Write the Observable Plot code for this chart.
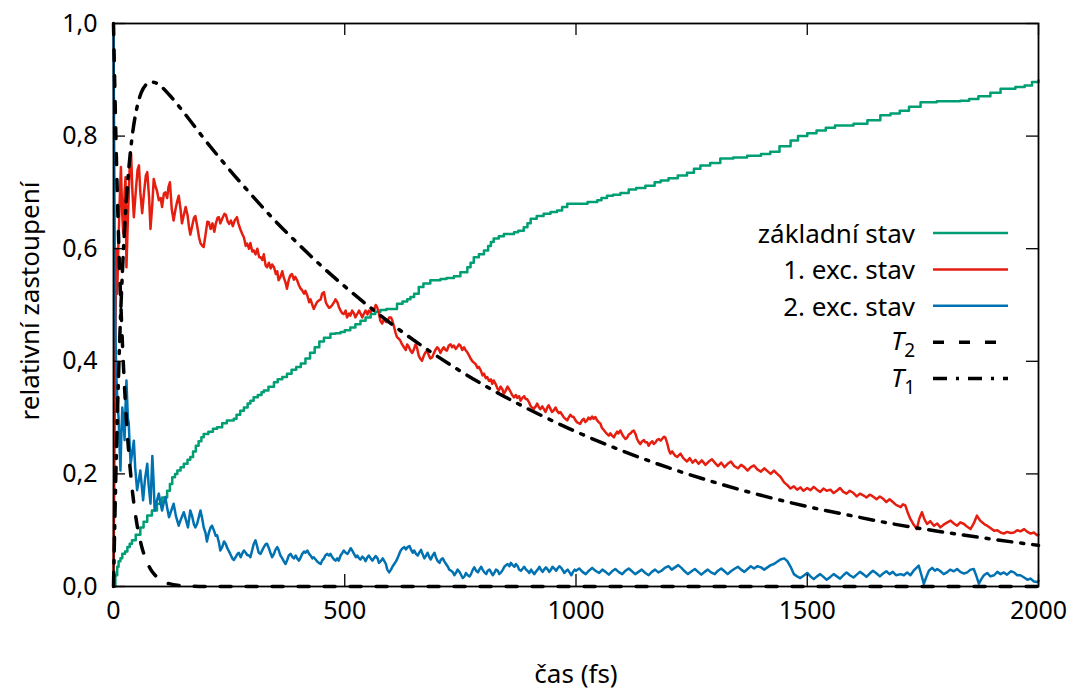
<!DOCTYPE html>
<html>
<head>
<meta charset="utf-8">
<script src="https://cdn.jsdelivr.net/npm/d3@7"></script>
<script src="https://cdn.jsdelivr.net/npm/@observablehq/plot@0.6"></script>
<style>
  html, body { margin: 0; padding: 0; background: #fff; }
  #chart { width: 1075px; height: 697px; }
</style>
</head>
<body>
<div id="chart"></div>
<script>
// ---------- data (time in fs, relative population) ----------
const xTicks = [0, 500, 1000, 1500, 2000];
const yTicks = [0, 0.2, 0.4, 0.6, 0.8, 1.0];

const legendLabels = ["základní stav", "1. exc. stav", "2. exc. stav", "T2", "T1"];
const colors = { ground: "#009e73", exc1: "#e51e10", exc2: "#0072b2", model: "#000000" };

// ground state (základní stav) – step-like
const groundSeries = [
[0,0],[4,0.02],[8,0.035],[11,0.045],[15,0.05],[19,0.058],[25,0.062],[30,0.07],[35,0.076],[40,0.082],
[48,0.092],[58,0.105],[65,0.115],[73,0.126],[83,0.135],[94,0.147],[105,0.158],[116,0.17],[122,0.182],[127,0.194],
[133,0.2],[138,0.206],[145,0.212],[152,0.218],[160,0.225],[166,0.23],[172,0.24],[178,0.25],[184,0.258],[190,0.265],
[195,0.271],[205,0.275],[215,0.28],[224,0.283],[235,0.29],[245,0.295],[260,0.298],[266,0.305],[274,0.312],[282,0.318],
[290,0.325],[296,0.33],[303,0.336],[312,0.34],[320,0.345],[325,0.348],[335,0.355],[347,0.363],[355,0.368],[365,0.372],
[375,0.378],[385,0.385],[395,0.39],[405,0.396],[415,0.405],[425,0.415],[435,0.425],[445,0.435],[455,0.442],[469,0.449],
[480,0.45],[491,0.452],[500,0.455],[512,0.46],[523,0.466],[534,0.472],[545,0.478],[556,0.484],[566,0.488],[577,0.491],
[590,0.493],[606,0.493],[613,0.502],[625,0.506],[635,0.51],[642,0.514],[650,0.52],[660,0.532],[670,0.538],[685,0.544],
[707,0.546],[720,0.548],[736,0.551],[750,0.558],[765,0.567],[772,0.575],[779,0.585],[790,0.59],[801,0.597],[810,0.605],
[816,0.612],[822,0.618],[833,0.622],[844,0.626],[866,0.629],[875,0.632],[887,0.638],[895,0.645],[902,0.653],[915,0.658],
[930,0.662],[945,0.665],[959,0.668],[970,0.674],[981,0.68],[1009,0.68],[1025,0.683],[1046,0.686],[1055,0.69],[1067,0.694],
[1080,0.696],[1096,0.699],[1114,0.705],[1130,0.708],[1150,0.712],[1170,0.718],[1183,0.721],[1200,0.725],[1220,0.73],[1240,0.735],
[1255,0.742],[1269,0.748],[1290,0.752],[1312,0.76],[1340,0.762],[1370,0.765],[1400,0.768],[1420,0.772],[1440,0.782],[1464,0.792],
[1480,0.8],[1500,0.805],[1520,0.81],[1540,0.815],[1560,0.819],[1600,0.822],[1630,0.828],[1658,0.837],[1680,0.84],[1700,0.845],
[1720,0.852],[1745,0.86],[1780,0.862],[1831,0.863],[1850,0.866],[1870,0.871],[1896,0.877],[1918,0.884],[1950,0.887],[1970,0.89],
[1986,0.896],[2000,0.899]
];

// 1st excited state (1. exc. stav)
const exc1Series = [
[0,0],[3,0.35],[6,0.6],[8,0.52],[11,0.62],[14,0.7],[16,0.745],[19,0.66],[21,0.627],[24,0.7],
[26,0.727],[28,0.567],[31,0.65],[35,0.745],[38,0.769],[41,0.7],[44,0.656],[48,0.7],[52,0.74],[55,0.748],
[58,0.7],[62,0.663],[66,0.7],[70,0.73],[73,0.736],[77,0.69],[80,0.635],[84,0.68],[87,0.724],[91,0.71],
[94,0.703],[98,0.686],[102,0.69],[105,0.674],[109,0.698],[112,0.7],[116,0.69],[119,0.71],[122,0.718],[126,0.67],
[130,0.65],[134,0.67],[138,0.685],[141,0.694],[145,0.67],[148,0.645],[152,0.66],[156,0.674],[160,0.66],[163,0.64],
[166,0.625],[170,0.64],[174,0.655],[177,0.658],[181,0.64],[185,0.62],[188,0.61],[192,0.605],[195,0.603],[199,0.625],
[203,0.648],[206,0.647],[210,0.635],[214,0.645],[218,0.63],[221,0.644],[225,0.655],[228,0.656],[231,0.645],[236,0.655],
[240,0.662],[243,0.66],[247,0.648],[250,0.644],[254,0.65],[258,0.64],[262,0.65],[267,0.656],[270,0.645],[274,0.635],
[278,0.627],[282,0.62],[286,0.605],[289,0.609],[293,0.6],[296,0.61],[300,0.595],[303,0.597],[307,0.59],[311,0.6],
[315,0.585],[318,0.585],[322,0.58],[325,0.59],[329,0.57],[332,0.567],[336,0.575],[340,0.565],[343,0.572],[347,0.567],
[351,0.555],[354,0.56],[357,0.544],[361,0.55],[365,0.56],[368,0.549],[372,0.54],[375,0.529],[379,0.545],[382,0.552],
[386,0.555],[390,0.545],[393,0.55],[397,0.544],[401,0.535],[404,0.53],[408,0.526],[412,0.52],[415,0.525],[419,0.517],
[423,0.505],[426,0.51],[430,0.5],[433,0.493],[437,0.5],[440,0.505],[444,0.508],[448,0.51],[451,0.52],[455,0.523],
[459,0.505],[462,0.5],[466,0.495],[469,0.496],[473,0.5],[477,0.505],[480,0.51],[484,0.505],[488,0.495],[491,0.49],
[495,0.485],[498,0.484],[502,0.49],[505,0.478],[509,0.485],[512,0.481],[516,0.49],[520,0.485],[523,0.478],[527,0.484],
[531,0.49],[534,0.485],[538,0.478],[541,0.484],[545,0.49],[549,0.483],[552,0.49],[556,0.487],[560,0.494],[563,0.49],
[567,0.5],[570,0.496],[574,0.485],[577,0.472],[581,0.467],[585,0.475],[589,0.47],[592,0.47],[596,0.478],[600,0.478],
[603,0.472],[607,0.46],[610,0.45],[613,0.443],[617,0.44],[620,0.437],[624,0.43],[628,0.425],[632,0.42],[635,0.43],
[639,0.425],[642,0.419],[646,0.415],[649,0.42],[653,0.43],[656,0.425],[660,0.41],[663,0.405],[667,0.401],[671,0.41],
[674,0.415],[678,0.419],[682,0.41],[685,0.405],[689,0.407],[693,0.415],[696,0.42],[700,0.425],[703,0.422],[707,0.415],
[710,0.42],[714,0.425],[718,0.42],[721,0.419],[725,0.428],[729,0.43],[732,0.425],[736,0.428],[740,0.422],[743,0.425],
[747,0.43],[750,0.428],[754,0.42],[758,0.425],[761,0.42],[765,0.416],[769,0.41],[772,0.405],[776,0.4],[779,0.398],
[783,0.395],[787,0.388],[790,0.39],[794,0.384],[798,0.375],[801,0.378],[805,0.37],[808,0.372],[812,0.365],[816,0.368],
[819,0.36],[822,0.366],[826,0.36],[830,0.352],[833,0.348],[837,0.355],[841,0.35],[844,0.342],[848,0.348],[852,0.355],
[855,0.351],[859,0.345],[862,0.34],[866,0.336],[870,0.34],[873,0.335],[877,0.338],[880,0.33],[884,0.335],[888,0.338],
[891,0.333],[894,0.333],[898,0.328],[902,0.32],[905,0.318],[909,0.316],[913,0.32],[916,0.325],[920,0.318],[923,0.315],
[927,0.32],[930,0.316],[934,0.31],[938,0.318],[941,0.322],[945,0.315],[948,0.31],[952,0.313],[956,0.318],[959,0.312],
[963,0.308],[966,0.31],[970,0.305],[974,0.3],[977,0.298],[981,0.295],[984,0.3],[988,0.305],[991,0.302],[995,0.301],
[999,0.295],[1002,0.292],[1006,0.29],[1009,0.289],[1013,0.295],[1017,0.298],[1020,0.292],[1024,0.295],[1027,0.3],[1031,0.297],
[1035,0.302],[1038,0.298],[1042,0.301],[1045,0.296],[1049,0.292],[1053,0.289],[1056,0.282],[1060,0.278],[1063,0.275],[1067,0.271],
[1071,0.268],[1074,0.272],[1078,0.268],[1082,0.265],[1085,0.27],[1089,0.275],[1092,0.272],[1096,0.277],[1100,0.27],[1103,0.266],
[1107,0.262],[1111,0.265],[1114,0.27],[1118,0.272],[1121,0.275],[1125,0.277],[1129,0.27],[1132,0.262],[1136,0.256],[1139,0.253],
[1143,0.258],[1147,0.26],[1150,0.256],[1154,0.256],[1157,0.25],[1161,0.255],[1165,0.258],[1168,0.253],[1172,0.256],[1175,0.26],
[1179,0.262],[1183,0.259],[1186,0.262],[1190,0.266],[1193,0.265],[1197,0.255],[1201,0.242],[1204,0.236],[1208,0.24],[1212,0.235],
[1215,0.232],[1219,0.23],[1222,0.233],[1226,0.236],[1232,0.228],[1240,0.222],[1246,0.228],[1252,0.22],[1258,0.225],[1265,0.218],
[1272,0.224],[1280,0.216],[1287,0.222],[1294,0.226],[1300,0.22],[1307,0.214],[1314,0.22],[1321,0.212],[1328,0.218],[1335,0.222],
[1342,0.214],[1350,0.21],[1357,0.216],[1364,0.212],[1371,0.206],[1378,0.212],[1385,0.215],[1392,0.208],[1400,0.204],[1407,0.21],
[1414,0.205],[1421,0.2],[1428,0.206],[1435,0.2],[1442,0.195],[1450,0.185],[1457,0.18],[1464,0.174],[1471,0.178],[1478,0.172],
[1485,0.176],[1492,0.17],[1500,0.175],[1507,0.171],[1514,0.177],[1521,0.172],[1528,0.168],[1535,0.174],[1542,0.17],[1550,0.172],
[1557,0.166],[1564,0.17],[1571,0.175],[1578,0.168],[1585,0.165],[1592,0.17],[1600,0.166],[1607,0.16],[1614,0.165],[1621,0.162],
[1628,0.158],[1635,0.163],[1642,0.16],[1650,0.155],[1657,0.16],[1664,0.156],[1671,0.15],[1678,0.155],[1685,0.15],[1692,0.145],
[1702,0.141],[1707,0.146],[1712,0.144],[1717,0.132],[1723,0.12],[1730,0.11],[1737,0.102],[1742,0.12],[1748,0.132],[1753,0.12],
[1759,0.111],[1766,0.116],[1774,0.108],[1781,0.112],[1788,0.105],[1795,0.11],[1803,0.114],[1810,0.117],[1817,0.112],[1824,0.108],
[1831,0.114],[1839,0.111],[1846,0.106],[1853,0.102],[1860,0.112],[1867,0.126],[1873,0.118],[1878,0.114],[1884,0.11],[1889,0.108],
[1896,0.104],[1904,0.099],[1911,0.1],[1918,0.096],[1925,0.094],[1932,0.097],[1940,0.095],[1947,0.096],[1954,0.1],[1961,0.098],
[1969,0.102],[1976,0.097],[1983,0.094],[1990,0.096],[1997,0.091],[2000,0.092]
];

// 2nd excited state (2. exc. stav)
const exc2Series = [
[0,1.0],[1,0.85],[2,0.7],[3,0.55],[4,0.455],[6,0.38],[8,0.336],[11,0.3],[13,0.25],[15,0.206],
[17,0.27],[19,0.318],[22,0.29],[24,0.26],[26,0.32],[28,0.366],[31,0.3],[33,0.289],[35,0.25],[37,0.218],
[40,0.235],[44,0.259],[47,0.21],[51,0.171],[55,0.19],[58,0.206],[61,0.18],[64,0.153],[68,0.19],[73,0.218],
[76,0.18],[80,0.147],[84,0.232],[87,0.18],[89,0.135],[93,0.15],[98,0.165],[101,0.15],[105,0.135],[109,0.15],
[112,0.159],[116,0.14],[120,0.123],[125,0.135],[130,0.147],[135,0.125],[141,0.108],[146,0.12],[152,0.132],[156,0.12],
[161,0.105],[166,0.135],[170,0.125],[174,0.11],[177,0.105],[181,0.112],[185,0.125],[188,0.135],[192,0.12],[195,0.105],
[199,0.095],[202,0.08],[206,0.095],[210,0.105],[213,0.108],[217,0.1],[221,0.09],[224,0.091],[228,0.078],[231,0.064],
[235,0.07],[239,0.08],[243,0.075],[246,0.068],[250,0.062],[254,0.055],[257,0.05],[260,0.047],[264,0.052],[268,0.058],
[271,0.06],[275,0.052],[278,0.058],[282,0.064],[286,0.06],[289,0.056],[293,0.055],[296,0.052],[300,0.065],[303,0.075],
[307,0.082],[311,0.07],[314,0.06],[318,0.058],[322,0.065],[325,0.07],[329,0.075],[332,0.076],[336,0.068],[340,0.058],
[343,0.052],[347,0.058],[350,0.065],[354,0.07],[357,0.065],[361,0.055],[365,0.05],[368,0.045],[372,0.04],[376,0.048],
[379,0.055],[383,0.058],[387,0.052],[390,0.05],[394,0.055],[397,0.05],[401,0.046],[405,0.052],[408,0.058],[412,0.062],
[415,0.06],[419,0.064],[423,0.058],[426,0.055],[430,0.05],[433,0.052],[437,0.048],[441,0.044],[444,0.042],[448,0.04],
[451,0.046],[455,0.05],[458,0.055],[462,0.058],[466,0.055],[469,0.058],[473,0.052],[477,0.048],[480,0.046],[484,0.05],
[487,0.046],[491,0.055],[495,0.06],[498,0.064],[502,0.06],[506,0.058],[509,0.062],[513,0.068],[516,0.064],[520,0.058],
[524,0.052],[527,0.055],[531,0.05],[534,0.048],[538,0.053],[542,0.05],[545,0.045],[549,0.052],[552,0.055],[556,0.05],
[560,0.046],[563,0.05],[567,0.054],[571,0.05],[574,0.042],[578,0.045],[582,0.05],[585,0.046],[589,0.04],[592,0.03],
[596,0.025],[600,0.03],[603,0.035],[607,0.04],[611,0.045],[614,0.05],[618,0.058],[621,0.064],[625,0.068],[629,0.07],
[632,0.066],[636,0.07],[640,0.072],[643,0.066],[647,0.06],[650,0.064],[654,0.058],[658,0.055],[661,0.06],[665,0.065],
[668,0.058],[672,0.05],[676,0.055],[679,0.06],[683,0.052],[686,0.048],[690,0.055],[694,0.06],[697,0.052],[701,0.045],
[705,0.042],[708,0.048],[712,0.05],[715,0.045],[719,0.04],[723,0.035],[726,0.03],[730,0.028],[734,0.025],[737,0.02],
[741,0.025],[744,0.03],[748,0.026],[752,0.02],[755,0.015],[759,0.018],[762,0.024],[766,0.02],[770,0.018],[773,0.022],
[777,0.03],[780,0.034],[784,0.028],[788,0.025],[791,0.03],[795,0.035],[798,0.03],[802,0.025],[806,0.022],[809,0.028],
[813,0.03],[816,0.026],[820,0.02],[824,0.025],[827,0.03],[831,0.028],[834,0.022],[838,0.025],[842,0.03],[845,0.035],
[849,0.038],[852,0.04],[856,0.036],[859,0.042],[863,0.038],[867,0.035],[870,0.04],[874,0.036],[877,0.03],[881,0.028],
[885,0.032],[888,0.035],[892,0.03],[895,0.028],[899,0.024],[903,0.03],[906,0.026],[910,0.022],[913,0.026],[917,0.03],
[921,0.035],[924,0.03],[928,0.026],[931,0.03],[935,0.034],[939,0.03],[942,0.026],[946,0.03],[949,0.035],[953,0.032],
[957,0.028],[960,0.032],[964,0.036],[968,0.033],[972,0.028],[975,0.024],[979,0.028],[982,0.03],[986,0.025],[990,0.02],
[993,0.025],[997,0.03],[1000,0.028],[1007,0.032],[1014,0.026],[1021,0.022],[1028,0.028],[1035,0.033],[1042,0.028],[1050,0.024],
[1057,0.03],[1064,0.026],[1071,0.021],[1078,0.027],[1085,0.031],[1092,0.026],[1100,0.022],[1107,0.028],[1114,0.032],[1121,0.027],
[1128,0.022],[1135,0.026],[1142,0.03],[1150,0.024],[1157,0.02],[1164,0.026],[1171,0.03],[1178,0.025],[1185,0.028],[1192,0.033],
[1200,0.036],[1207,0.03],[1214,0.034],[1221,0.038],[1228,0.033],[1235,0.027],[1242,0.022],[1250,0.027],[1257,0.031],[1264,0.026],
[1271,0.021],[1278,0.026],[1285,0.03],[1292,0.025],[1300,0.022],[1307,0.028],[1314,0.032],[1321,0.027],[1328,0.022],[1335,0.027],
[1342,0.031],[1350,0.035],[1357,0.03],[1364,0.026],[1371,0.031],[1378,0.036],[1385,0.032],[1392,0.036],[1400,0.034],[1407,0.03],
[1414,0.034],[1421,0.038],[1428,0.04],[1435,0.044],[1442,0.048],[1450,0.05],[1457,0.045],[1464,0.035],[1471,0.022],[1478,0.018],
[1485,0.015],[1492,0.019],[1500,0.024],[1507,0.018],[1514,0.013],[1521,0.018],[1528,0.022],[1535,0.017],[1542,0.012],[1550,0.017],
[1557,0.022],[1564,0.018],[1571,0.014],[1578,0.02],[1585,0.025],[1592,0.02],[1600,0.016],[1607,0.021],[1614,0.026],[1621,0.022],
[1628,0.017],[1635,0.023],[1642,0.028],[1650,0.023],[1657,0.018],[1664,0.023],[1671,0.027],[1678,0.022],[1685,0.026],[1692,0.02],
[1702,0.022],[1709,0.02],[1716,0.025],[1723,0.02],[1730,0.028],[1736,0.033],[1741,0.037],[1747,0.02],[1752,0.005],[1758,0.018],
[1763,0.028],[1770,0.033],[1776,0.028],[1781,0.031],[1788,0.027],[1795,0.022],[1802,0.025],[1809,0.03],[1817,0.027],[1824,0.031],
[1831,0.026],[1839,0.023],[1846,0.025],[1853,0.03],[1860,0.031],[1866,0.018],[1871,0.005],[1877,0.014],[1882,0.02],[1889,0.024],
[1896,0.018],[1904,0.02],[1911,0.026],[1918,0.022],[1925,0.025],[1932,0.021],[1940,0.027],[1947,0.025],[1954,0.02],[1961,0.02],
[1969,0.016],[1976,0.012],[1983,0.014],[1990,0.009],[1997,0.008],[2000,0.01]
];

// kinetic model curves
const modelT  = [0,5,10,15,20,25,30,40,50,60,70,80,90,100,120,150,200,250,300,350,400,450,500,550,600,700,800,900,1000,1100,1200,1300,1400,1500,1600,1700,1800,1900,2000];
const modelT2 = [1.0,0.805,0.647,0.521,0.419,0.337,0.271,0.176,0.114,0.074,0.048,0.031,0.02,0.013,0.005,0.0015,0.0002,0,0,0,0,0,0,0,0,0,0,0,0,0,0,0,0,0,0,0,0,0,0];
const modelT1 = [0,0.195,0.35,0.474,0.572,0.65,0.711,0.797,0.848,0.877,0.891,0.896,0.895,0.89,0.874,0.844,0.791,0.741,0.694,0.649,0.608,0.569,0.533,0.499,0.467,0.409,0.358,0.314,0.275,0.241,0.211,0.185,0.162,0.142,0.125,0.109,0.096,0.084,0.073];

// ---------- build tables ----------
const toRows = s => s.map(([t, v]) => ({ t, v }));
const ground = toRows(groundSeries);
const exc1 = toRows(exc1Series);
const exc2 = toRows(exc2Series);
const model = modelT.map((t, i) => ({ t, T2: modelT2[i], T1: modelT1[i] }));

const W = 1075, H = 697, mL = 113, mR = 37, mT = 23, mB = 111;
const plotW = W - mL - mR, plotH = H - mT - mB;
const TICK = 12;
const fmtY = d => d.toFixed(1).replace(".", ",");
const FONT = "'Noto Sans', 'Open Sans', sans-serif";
const FS = 25;

const svg = Plot.plot({
  width: W, height: H,
  marginLeft: mL, marginRight: mR, marginTop: mT, marginBottom: mB,
  style: { fontFamily: FONT, fontSize: FS + "px", color: "black", background: "white", overflow: "visible" },
  x: { domain: [0, 2000] },
  y: { domain: [0, 1] },
  marks: [
    Plot.line(ground, { x: "t", y: "v", stroke: colors.ground, strokeWidth: 2.5, curve: "step-after" }),
    Plot.line(exc1, { x: "t", y: "v", stroke: colors.exc1, strokeWidth: 2.5 }),
    Plot.line(exc2, { x: "t", y: "v", stroke: colors.exc2, strokeWidth: 2.5 }),
    Plot.line(model, { x: "t", y: "T2", stroke: colors.model, strokeWidth: 3.5, strokeDasharray: "11,15", curve: "monotone-x" }),
    Plot.line(model, { x: "t", y: "T1", stroke: colors.model, strokeWidth: 3.5, strokeDasharray: "14,9,3,9", curve: "monotone-x" }),
    Plot.frame({ stroke: "black", strokeWidth: 1.8 }),
    Plot.tickX(xTicks, { x: d => d, insetTop: plotH - TICK, stroke: "black", strokeWidth: 1.3 }),
    Plot.tickX(xTicks, { x: d => d, insetBottom: plotH - TICK, stroke: "black", strokeWidth: 1.3 }),
    Plot.tickY(yTicks, { y: d => d, insetRight: plotW - TICK, stroke: "black", strokeWidth: 1.3 }),
    Plot.tickY(yTicks, { y: d => d, insetLeft: plotW - TICK, stroke: "black", strokeWidth: 1.3 }),
    Plot.axisX({ ticks: xTicks, tickSize: 0, tickPadding: 15, label: null, tickFormat: d => String(d), fontSize: FS }),
    Plot.axisY({ ticks: yTicks, tickSize: 0, tickPadding: 16, label: null, tickFormat: fmtY, fontSize: FS }),
    Plot.text(["čas (fs)"], { frameAnchor: "bottom", text: d => d, dy: 96, fontSize: 26, textAnchor: "middle" }),
    Plot.text(["relativní zastoupení"], { frameAnchor: "left", text: d => d, rotate: -90, dx: -83, dy: -4, fontSize: 26, textAnchor: "middle" })
  ]
});

// ---------- legend (inside the frame, right side) ----------
const g = d3.select(svg).append("g").attr("font-family", FONT).attr("font-size", 26).attr("fill", "black");
const legendItems = [
  { label: legendLabels[0], stroke: colors.ground, dash: null, w: 2.5 },
  { label: legendLabels[1], stroke: colors.exc1, dash: null, w: 2.5 },
  { label: legendLabels[2], stroke: colors.exc2, dash: null, w: 2.5 },
  { label: legendLabels[3], stroke: colors.model, dash: "11,15", w: 3.5, sub: true },
  { label: legendLabels[4], stroke: colors.model, dash: "14,9,3,9", w: 3.5, sub: true }
];
const lx0 = 933, lx1 = 1008, textEnd = 915, ly0 = 233, ldy = 36.4;
legendItems.forEach((it, i) => {
  const y = ly0 + i * ldy;
  const line = g.append("line").attr("x1", lx0).attr("x2", lx1).attr("y1", y).attr("y2", y)
    .attr("stroke", it.stroke).attr("stroke-width", it.w);
  if (it.dash) line.attr("stroke-dasharray", it.dash);
  const t = g.append("text").attr("x", textEnd).attr("y", y + (it.sub ? 8 : 10)).attr("text-anchor", "end");
  if (it.sub) {
    t.append("tspan").attr("font-style", "italic").text(it.label[0]);
    t.append("tspan").attr("font-size", 19).attr("dy", 7).text(it.label.slice(1));
  } else {
    t.text(it.label);
  }
});

document.getElementById("chart").appendChild(svg);
</script>
</body>
</html>
